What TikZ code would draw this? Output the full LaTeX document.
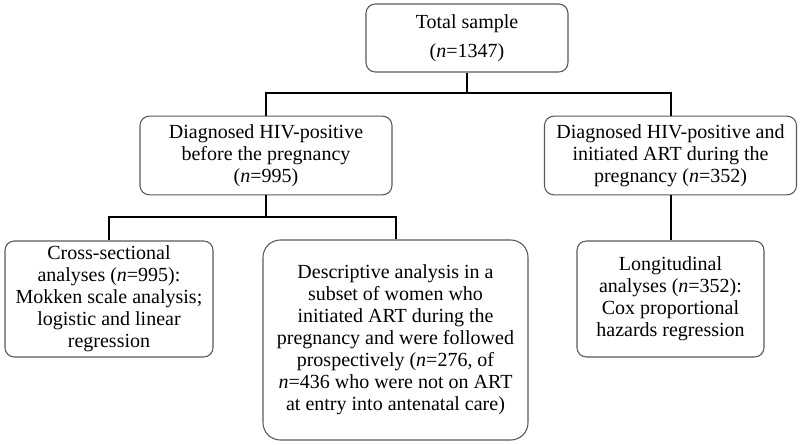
\documentclass[tikz,border=0pt]{standalone}
\usepackage{fontspec}
\setmainfont{Liberation Serif}

\begin{document}
\begin{tikzpicture}[x=0.75pt,y=-0.75pt,
        box/.style={draw=black!65,line width=0.8pt,rounded corners=7pt,align=center,inner sep=0pt,
            font=\fontsize{15}{16.5}\selectfont},
        link/.style={line width=1.5pt}]
        \useasboundingbox (0,0) rectangle (800,445);
        \node[box,minimum width=151.5pt,minimum height=51pt] (total) at (467,38) {Total sample\\[5.5pt](\textit{n}=1347)};
        \node[box,minimum width=189pt,minimum height=59pt] (before) at (266,155.5) {Diagnosed HIV-positive\\before the pregnancy\\(\textit{n}=995)};
        \node[box,minimum width=189pt,minimum height=59pt] (during) at (670.5,155.5) {Diagnosed HIV-positive and\\initiated ART during the\\pregnancy (\textit{n}=352)};
        \node[box,minimum width=156pt,minimum height=87pt] (cross) at (109,299) {Cross-sectional\\analyses (\textit{n}=995):\\Mokken scale analysis;\\logistic and linear\\regression};
        \node[box,rounded corners=13pt,minimum width=198.75pt,minimum height=150pt] (descr) at (395.5,340) {Descriptive analysis in a\\subset of women who\\initiated ART during the\\pregnancy and were followed\\prospectively (\textit{n}=276, of\\\textit{n}=436 who were not on ART\\at entry into antenatal care)};
        \node[box,minimum width=140.25pt,minimum height=87pt] (longi) at (670.5,299) {Longitudinal\\analyses (\textit{n}=352):\\Cox proportional\\hazards regression};
        \coordinate (bus1) at (467,93);
        \coordinate (bus2) at (266,217);
        \draw[link] (total) -- (bus1);
        \draw[link] (before.north) |- (bus1) -| (during.north);
        \draw[link] (before) -- (bus2);
        \draw[link] (cross.north) |- (bus2) -| (descr.north);
        \draw[link] (during) -- (longi);
    \end{tikzpicture}
\end{document}
